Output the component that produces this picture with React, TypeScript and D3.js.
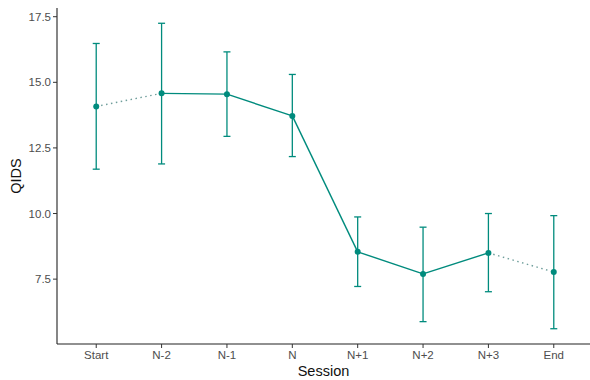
import React from "react";
import * as d3 from "d3";

const width = 590;
const height = 380;
const margin = { top: 8, right: -3, bottom: 36, left: 57 };

const sessions = ["Start", "N-2", "N-1", "N", "N+1", "N+2", "N+3", "End"];
const means = [14.08, 14.58, 14.55, 13.72, 8.54, 7.7, 8.5, 7.77];
const lower = [11.69, 11.89, 12.94, 12.17, 7.22, 5.88, 7.02, 5.61];
const upper = [16.48, 17.25, 16.16, 15.3, 9.87, 9.48, 10.0, 9.92];
const yTicks = [7.5, 10.0, 12.5, 15.0, 17.5];
// segments drawn dotted (index of first point)
const dottedFrom = [0, 6];

const teal = "#008B7D";
const font = "'Liberation Sans', Arial, sans-serif";

export default function App() {
  const x = d3
    .scalePoint<string>()
    .domain(sessions)
    .range([margin.left, width - margin.right])
    .padding(0.6);

  const lo = d3.min(lower) as number;
  const hi = d3.max(upper) as number;
  const pad = (hi - lo) * 0.05;
  const y = d3
    .scaleLinear()
    .domain([lo - pad, hi + pad])
    .range([height - margin.bottom, margin.top]);

  const segments = means.slice(0, -1).map((m, i) => ({
    i,
    path: `M${x(sessions[i])},${y(m)}L${x(sessions[i + 1])},${y(means[i + 1])}`,
    dotted: dottedFrom.includes(i),
  }));

  const bottom = height - margin.bottom;

  return (
    <svg width={width} height={height} style={{ position: "absolute", left: 0, top: 0, background: "#fff" }}>
      {/* error bars */}
      {sessions.map((s, i) => (
        <g key={s} stroke={teal} strokeWidth={1.3}>
          <line x1={x(s)} x2={x(s)} y1={y(lower[i])} y2={y(upper[i])} />
          <line x1={(x(s) as number) - 3.5} x2={(x(s) as number) + 3.5} y1={y(lower[i])} y2={y(lower[i])} />
          <line x1={(x(s) as number) - 3.5} x2={(x(s) as number) + 3.5} y1={y(upper[i])} y2={y(upper[i])} />
        </g>
      ))}
      {/* lines */}
      {segments.map((sg) =>
        sg.dotted ? (
          <path key={sg.i} d={sg.path} fill="none" stroke="#6f9e9b" strokeWidth={1.4} strokeDasharray="1.5,3.5" />
        ) : (
          <path key={sg.i} d={sg.path} fill="none" stroke={teal} strokeWidth={1.4} />
        )
      )}
      {/* points */}
      {means.map((m, i) => (
        <circle key={i} cx={x(sessions[i])} cy={y(m)} r={3} fill={teal} />
      ))}
      {/* axes */}
      <line x1={margin.left} x2={margin.left} y1={margin.top} y2={bottom} stroke="#222" strokeWidth={1.1} />
      <line x1={margin.left} x2={width} y1={bottom} y2={bottom} stroke="#222" strokeWidth={1.1} />
      {yTicks.map((t) => (
        <g key={t}>
          <line x1={margin.left - 4} x2={margin.left} y1={y(t)} y2={y(t)} stroke="#333" strokeWidth={1} />
          <text x={margin.left - 6} y={y(t)} dy="0.35em" textAnchor="end" fontFamily={font} fontSize={11.5} fill="#4d4d4d">
            {t.toFixed(1)}
          </text>
        </g>
      ))}
      {sessions.map((s) => (
        <g key={s}>
          <line x1={x(s)} x2={x(s)} y1={bottom} y2={bottom + 4} stroke="#333" strokeWidth={1} />
          <text x={x(s)} y={bottom + 15} textAnchor="middle" fontFamily={font} fontSize={11.5} fill="#4d4d4d">
            {s}
          </text>
        </g>
      ))}
      <text x={(margin.left + width) / 2} y={height - 4} textAnchor="middle" fontFamily={font} fontSize={14.5} fill="#111">
        Session
      </text>
      <text
        transform={`translate(21,${(margin.top + bottom) / 2}) rotate(-90)`}
        textAnchor="middle"
        fontFamily={font}
        fontSize={14.5}
        fill="#111"
      >
        QIDS
      </text>
    </svg>
  );
}
